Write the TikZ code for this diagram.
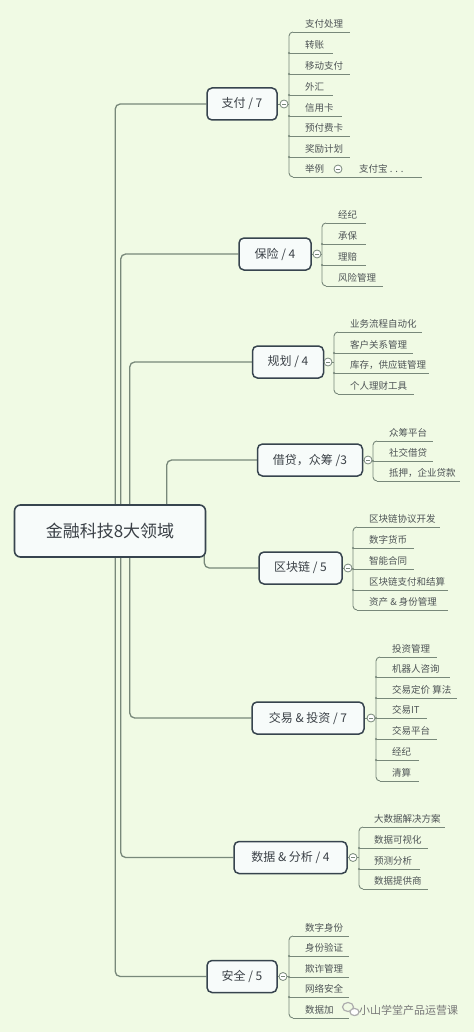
\documentclass[tikz,border=0pt]{standalone}
\usepackage{fontspec}
\setmainfont{Noto Sans CJK SC}
\usetikzlibrary{backgrounds}
\definecolor{bgc}{RGB}{240,250,228}
\definecolor{linec}{RGB}{120,136,122}
\definecolor{boxc}{RGB}{55,68,78}
\definecolor{boxf}{RGB}{247,251,250}
\definecolor{txtc}{RGB}{58,64,70}
\definecolor{leafc}{RGB}{78,84,86}
\definecolor{wmc}{RGB}{120,120,120}
\newcommand\mmleaves[5]{% #1 prefix, #2 bracket x, #3 text x, #4 list, #5 count
  \foreach \yy/\ee/\lbl [count=\kk] in {#4} {
    \node[leaf] (#1\kk) at (#3,\yy-4.5) {\lbl};
    \ifnum\kk=1 \def\sx{#2+4}\else\ifnum\kk=#5 \def\sx{#2+4}\else\def\sx{#2}\fi\fi
    \draw[uline] (\sx,\yy) -- (\ee,\yy);
    \ifnum\kk>1 \ifnum\kk<#5 \fill[linec] (#2,\yy) circle (1.1pt);\fi\fi
  }
}
\newcommand\mmbracket[3]{% #1 x, #2 first y, #3 last y
  \draw[uline, rounded corners=4pt] (#1+4,#2) -- (#1,#2) -- (#1,#3) -- (#1+4,#3);
}
\begin{document}
\begin{tikzpicture}[x=1pt,y=-1pt,
  conn/.style={draw=linec, line width=1.3pt, rounded corners=5pt},
  rootbox/.style={draw=boxc, line width=1.6pt, fill=boxf, rounded corners=6pt,
    minimum width=191pt, minimum height=52pt, inner sep=0pt,
    font=\fontsize{17}{17}\selectfont, text=txtc},
  branch/.style={draw=boxc, line width=1.5pt, fill=boxf, rounded corners=5pt,
    minimum height=32pt, inner sep=0pt, font=\fontsize{12}{12}\selectfont, text=txtc},
  leaf/.style={font=\fontsize{9.5}{9.5}\selectfont, text=leafc, anchor=base west, inner sep=0pt},
  uline/.style={draw=linec, line width=0.9pt},
  knob/.style={circle, draw=linec, fill=white, line width=0.8pt, minimum size=8pt, inner sep=0pt},
  minus/.style={draw=linec, line width=0.6pt}
]
\begin{pgfonlayer}{background}
\fill[bgc] (0,0) rectangle (474,1032);
\end{pgfonlayer}
\useasboundingbox (0,0) rectangle (474,1032);

% root and branches
\node[rootbox] (root) at (110,531) {金融科技8大领域};
\node[branch, minimum width=70pt] (pay) at (242,104) {支付 / 7};
\node[branch, minimum width=72pt] (ins) at (275,254) {保险 / 4};
\node[branch, minimum width=71pt] (plan) at (288,362) {规划 / 4};
\node[branch, minimum width=105pt] (loan) at (310,460) {借贷，众筹 /3};
\node[branch, minimum width=83pt] (chain) at (300.5,568) {区块链 / 5};
\node[branch, minimum width=112pt] (trade) at (308,718) {交易 \& 投资 / 7};
\node[branch, minimum width=113pt] (data) at (290.5,857.5) {数据 \& 分析 / 4};
\node[branch, minimum width=70pt] (sec) at (242,976.5) {安全 / 5};

\begin{pgfonlayer}{background}
\draw[conn] ([xshift=101.5pt]root.north west) |- (pay.west);
\draw[conn] ([xshift=107pt]root.north west) |- (ins.west);
\draw[conn] ([xshift=116pt]root.north west) |- (plan.west);
\draw[conn] ([xshift=153pt]root.north west) |- (loan.west);
\draw[conn] ([xshift=-2pt,yshift=3pt]root.south east) |- (chain.west);
\draw[conn] ([xshift=116pt]root.south west) |- (trade.west);
\draw[conn] ([xshift=107pt]root.south west) |- (data.west);
\draw[conn] ([xshift=101.5pt]root.south west) |- (sec.west);
\end{pgfonlayer}

% knobs and bracket joins
\foreach \b/\kx/\bx in {pay/284/289, ins/317/322, plan/328/334, loan/368/373,
    chain/348/353, trade/371/376, data/353/359, sec/283/289} {
  \node[knob] (\b k) at (\kx,0 |- \b.east) {};
  \coordinate (\b j) at (\bx,0 |- \b.east);
  \draw[uline] (\b.east) -- (\b k) -- (\b j);
  \draw[minus] ([xshift=-2pt]\b k.center) -- ([xshift=2pt]\b k.center);
}

% 支付
\mmbracket{289}{32}{177}
\mmleaves{payl}{289}{305}{32/350/支付处理, 53/333/转账, 74/350/移动支付, 95/333/外汇,
  116/342/信用卡, 136/350/预付费卡, 157/350/奖励计划, 177/336/举例}{8}
\node[knob] (exk) at (338,169) {};
\draw[minus] ([xshift=-2pt]exk.center) -- ([xshift=2pt]exk.center);
\node[leaf] (alipay) at (359,172.5) {支付宝 . . .};
\draw[uline] (336,177) -- (422,177);

% 保险
\mmbracket{322}{223}{286}
\mmleaves{insl}{322}{338}{223/366/经纪, 244/366/承保, 265/366/理赔, 286/383/风险管理}{4}

% 规划
\mmbracket{334}{332}{394}
\mmleaves{planl}{334}{350}{332/422/业务流程自动化, 353/413/客户关系管理,
  373/429/库存，供应链管理, 394/414/个人理财工具}{4}

% 借贷
\mmbracket{373}{441}{481}
\mmleaves{loanl}{373}{389}{441/433/众筹平台, 461/433/社交借贷, 481/460/抵押，企业贷款}{3}

% 区块链
\mmbracket{353}{527}{610}
\mmleaves{chainl}{353}{369}{527/440/区块链协议开发, 548/414/数字货币, 569/414/智能合同,
  590/448/区块链支付和结算, 610/448/资产 \& 身份管理}{5}

% 交易
\mmbracket{376}{657}{781}
\mmleaves{tradel}{376}{392}{657/437/投资管理, 677/450/机器人咨询, 698/457/交易定价 算法,
  718/427/交易IT, 739/437/交易平台, 760/419/经纪, 781/419/清算}{7}

% 数据
\mmbracket{359}{827}{889}
\mmleaves{datal}{359}{374}{827/445/大数据解决方案, 848/428/数据可视化, 869/420/预测分析,
  889/428/数据提供商}{4}

% 安全
\mmbracket{289}{936}{1018}
\mmleaves{secl}{289}{305}{936/349/数字身份, 956/349/身份验证, 977/349/欺诈管理,
  997/349/网络安全, 1018/349/数据加}{5}

% watermark
\draw[wmc!60, line width=1.2pt] (348,1007) ellipse (5.5 and 4.5);
\draw[wmc!60, line width=1.2pt, fill=white] (354.5,1012) ellipse (4.5 and 3.6);
\node[anchor=west, inner sep=0pt, text=wmc, font=\fontsize{11}{11}\selectfont] (wm) at (359,1010) {小山学堂产品运营课};
\end{tikzpicture}
\end{document}
